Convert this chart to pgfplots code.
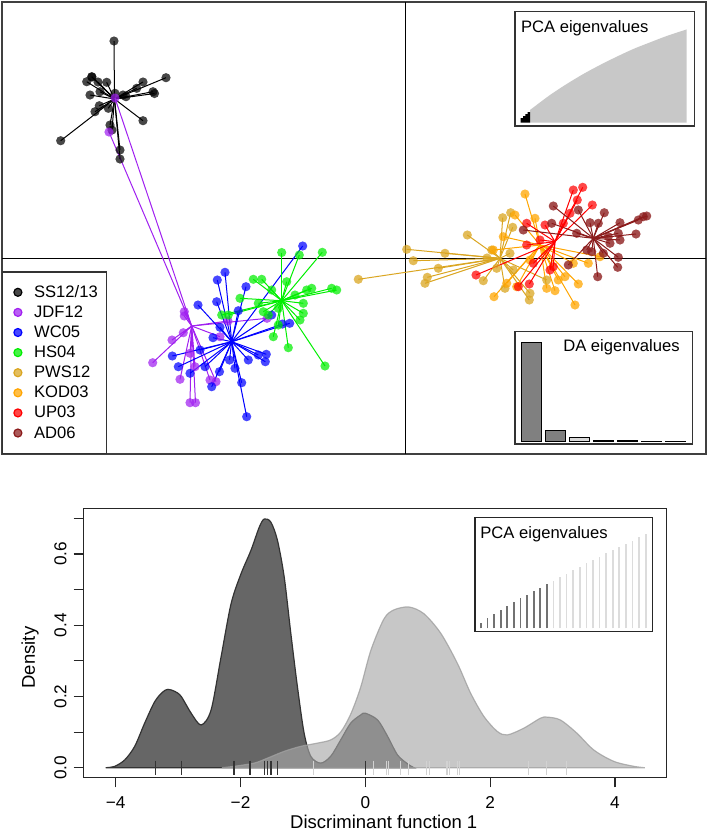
\documentclass[border=0pt]{standalone}
\usepackage{pgfplots}
\pgfplotsset{compat=1.18}
\usepackage{pgfplotstable}
\usepackage{fontspec}
\setmainfont{Liberation Sans}
\newcommand\fs{\fontsize{8.3}{10}\selectfont}
\newcommand\fl{\fontsize{9.25}{11}\selectfont}
\newcommand\ft{\fontsize{8.6}{10}\selectfont}
\definecolor{cA}{HTML}{000000}
\definecolor{cB}{HTML}{A020F0}
\definecolor{cC}{HTML}{0000FF}
\definecolor{cD}{HTML}{00EE00}
\definecolor{cE}{HTML}{DAA520}
\definecolor{cF}{HTML}{FFA500}
\definecolor{cG}{HTML}{FF0000}
\definecolor{cH}{HTML}{8B1A1A}
\definecolor{dkfill}{HTML}{666666}
\definecolor{dkline}{HTML}{333333}
\definecolor{ltfill}{HTML}{A7A7A7}
\definecolor{ltline}{HTML}{A0A0A0}
\definecolor{pcag}{HTML}{C8C8C8}
\definecolor{barDk}{HTML}{808080}
\definecolor{barLt}{HTML}{D9D9D9}
\definecolor{combDk}{HTML}{727272}
\definecolor{combLt}{HTML}{DCDCDC}
\definecolor{rugLt}{HTML}{D2D2D2}

% centroids (pixel coordinates of the scatter panel)
\def\cxA{114.5}\def\cyA{99}
\def\cxB{191.7}\def\cyB{326}
\def\cxC{231.7}\def\cyC{341.7}
\def\cxD{281.7}\def\cyD{300.7}
\def\cxE{500}\def\cyE{258.3}
\def\cxF{540}\def\cyF{245}
\def\cxG{555}\def\cyG{241.7}
\def\cxH{593.3}\def\cyH{238.3}

\pgfplotstableread{
x y
114 41
92 77
86.7 81.7
91.7 76.7
98 82
106.7 82.3
90 95
100 91.7
115 93.3
126 96.7
123 95
136.7 88.3
143 82
153 91.7
154.5 93.5
166 77.7
143 120.7
95 111.7
99.3 105.7
108.3 108.3
110 125
112 130
120 150
120 159
60.7 140.7
}\tA
\pgfplotstableread{
x y
115 98
109 132
184.3 311.7
184.3 316
183.3 332.7
152.7 362.7
180 379.3
190 353.3
195 366.7
190 402.7
195.5 402.7
210 380
216 381.7
220 336.7
228 321
267 318.3
172 340
}\tB
\pgfplotstableread{
x y
302.7 246
225 272.3
217.3 280
246 286.7
198 305
216.7 301.7
238.3 310.7
220 327.3
213 337.7
172.3 356
178.3 366.7
190 373.3
205 366.7
211.7 386.7
219.5 371.7
229.5 360
235 368.3
241.7 382.7
248.3 360
258.3 355
266.3 354.3
265.3 361.7
282.5 324
289.7 323.3
271.7 315
246.7 416.7
200 350
}\tC
\pgfplotstableread{
x y
281.7 252.5
299.3 255
322.3 252.3
253.3 279.3
261.7 279.3
240 298.3
221.7 315
228.3 315
258.3 303.3
263.3 311.7
273.3 336.7
288.3 347.7
325 366
303.3 303.3
303.3 313.3
306.7 290
311.7 288.3
331.7 288.3
336.7 290
295 295
286.7 281.7
271.7 290
278.3 308.3
300 320
278.3 325
268.3 315
}\tD
\pgfplotstableread{
x y
358.3 279.3
406.7 249.3
413.3 260.7
445 253.3
438.3 268.3
427.3 277.3
425 283.3
467.3 235
502.7 217.7
510.7 212.7
512.7 227.3
483.3 280.7
496.7 268.3
505 288.3
530 293.3
529.3 300
513.3 270
491.7 250
510 253.3
546.7 280
487 258
}\tE
\pgfplotstableread{
x y
525 194
515 215
535 218.3
494 296.7
503.3 236.7
493.3 250
546.7 288.3
555 290.7
558.3 280
575 305
578.3 284
588.3 263.3
600 256.7
565 276.7
516.7 286.7
573.3 263.3
506.7 283.3
530 260
}\tF
\pgfplotstableread{
x y
573.3 190
582.7 187.3
577.3 200
592.3 205
526.7 223.3
476 275
518.3 286.7
529.3 284
545 225
570 213.3
533.3 263.3
550 270
563.3 223.3
526.7 245
553.3 266.7
540 240
}\tG
\pgfplotstableread{
x y
553.3 206
578.3 210
604.3 212.7
590 222.7
598.3 223.3
620 222.7
638.3 220
646.7 216
643.3 216.7
636 234
620 240
618.3 233.3
610 243.3
618.3 257.3
617.7 267.3
597.7 276.7
568.3 265
586.7 250
576.7 233.3
523.3 230
551.7 223.3
591.7 251.7
603.3 253.3
608.3 236.7
}\tH

\begin{document}
\begin{tikzpicture}
\path[use as bounding box] (0,0) rectangle (354.5pt,-418.5pt);

% ---------------- top scatter panel ----------------
\begin{axis}[
  at={(1pt,-1pt)}, anchor=north west, scale only axis,
  width=352pt, height=226pt,
  xmin=2, xmax=706, ymin=-454, ymax=-2,
  xtick=\empty, ytick=\empty,
  axis line style={black!75, line width=0.9pt},
  legend image code/.code={\path (-3pt,0pt) (3pt,0pt); \fill[#1] (0pt,0pt) circle (2pt);},
  legend cell align=left,
  legend style={at={(0,0)}, anchor=south west, draw=black!80, line width=0.6pt,
    fill=white, font=\fs, inner xsep=4.35pt, inner ysep=6.7pt,
    row sep=3.05pt, column sep=4.8pt,
    nodes={inner sep=0pt, text height=6pt, text depth=1pt}},
]
\addlegendimage{cA, fill opacity=0.72}
\addlegendimage{cB, fill opacity=0.72}
\addlegendimage{cC, fill opacity=0.72}
\addlegendimage{cD, fill opacity=0.72}
\addlegendimage{cE, fill opacity=0.72}
\addlegendimage{cF, fill opacity=0.72}
\addlegendimage{cG, fill opacity=0.72}
\addlegendimage{cH, fill opacity=0.72}

\addplot[black, line width=0.5pt, forget plot] coordinates {(405,-2) (405,-454)};
\addplot[black, line width=0.5pt, forget plot] coordinates {(2,-258.3) (706,-258.3)};

\addplot[cA, line width=0.5pt, forget plot, quiver={u={\cxA-\thisrow{x}}, v={\thisrow{y}-\cyA}}] table[x=x, y expr=-\thisrow{y}] {\tA};
\addplot[cB, line width=0.5pt, forget plot, quiver={u={\cxB-\thisrow{x}}, v={\thisrow{y}-\cyB}}] table[x=x, y expr=-\thisrow{y}] {\tB};
\addplot[cC, line width=0.5pt, forget plot, quiver={u={\cxC-\thisrow{x}}, v={\thisrow{y}-\cyC}}] table[x=x, y expr=-\thisrow{y}] {\tC};
\addplot[cD, line width=0.5pt, forget plot, quiver={u={\cxD-\thisrow{x}}, v={\thisrow{y}-\cyD}}] table[x=x, y expr=-\thisrow{y}] {\tD};
\addplot[cE, line width=0.5pt, forget plot, quiver={u={\cxE-\thisrow{x}}, v={\thisrow{y}-\cyE}}] table[x=x, y expr=-\thisrow{y}] {\tE};
\addplot[cF, line width=0.5pt, forget plot, quiver={u={\cxF-\thisrow{x}}, v={\thisrow{y}-\cyF}}] table[x=x, y expr=-\thisrow{y}] {\tF};
\addplot[cG, line width=0.5pt, forget plot, quiver={u={\cxG-\thisrow{x}}, v={\thisrow{y}-\cyG}}] table[x=x, y expr=-\thisrow{y}] {\tG};
\addplot[cH, line width=0.5pt, forget plot, quiver={u={\cxH-\thisrow{x}}, v={\thisrow{y}-\cyH}}] table[x=x, y expr=-\thisrow{y}] {\tH};

\addplot[cA, only marks, mark=*, mark size=2.3pt, forget plot, mark options={fill opacity=0.72, draw opacity=0}] table[x=x, y expr=-\thisrow{y}] {\tA};
\addplot[cB, only marks, mark=*, mark size=2.3pt, forget plot, mark options={fill opacity=0.72, draw opacity=0}] table[x=x, y expr=-\thisrow{y}] {\tB};
\addplot[cC, only marks, mark=*, mark size=2.3pt, forget plot, mark options={fill opacity=0.72, draw opacity=0}] table[x=x, y expr=-\thisrow{y}] {\tC};
\addplot[cD, only marks, mark=*, mark size=2.3pt, forget plot, mark options={fill opacity=0.72, draw opacity=0}] table[x=x, y expr=-\thisrow{y}] {\tD};
\addplot[cE, only marks, mark=*, mark size=2.3pt, forget plot, mark options={fill opacity=0.75, draw opacity=0}] table[x=x, y expr=-\thisrow{y}] {\tE};
\addplot[cF, only marks, mark=*, mark size=2.3pt, forget plot, mark options={fill opacity=0.75, draw opacity=0}] table[x=x, y expr=-\thisrow{y}] {\tF};
\addplot[cG, only marks, mark=*, mark size=2.3pt, forget plot, mark options={fill opacity=0.72, draw opacity=0}] table[x=x, y expr=-\thisrow{y}] {\tG};
\addplot[cH, only marks, mark=*, mark size=2.3pt, forget plot, mark options={fill opacity=0.78, draw opacity=0}] table[x=x, y expr=-\thisrow{y}] {\tH};

\legend{SS12/13,JDF12,WC05,HS04,PWS12,KOD03,UP03,AD06}
\end{axis}

% ---------------- PCA eigenvalues inset (top) ----------------
\begin{axis}[
  at={(257.5pt,-5.85pt)}, anchor=north west, scale only axis,
  width=89.65pt, height=57.15pt,
  xmin=515, xmax=694.3, ymin=-3.3, ymax=111,
  xtick=\empty, ytick=\empty,
  axis background/.style={fill=white},
  axis line style={black!80, line width=0.6pt},
]
\addplot[fill=pcag, draw=none, smooth] coordinates {
 (530,12.7) (550,27.7) (566.7,38.7) (583.3,48.7) (600,57.7) (616.7,66)
 (633.3,73.7) (650,80.3) (666.7,86.7) (686.7,93.3)} \closedcycle;
\addplot[fill=black, draw=none, const plot] coordinates {
 (520.7,4.5) (523,6.5) (525.3,8.5) (527.6,10.5) (530,10.5)} \closedcycle;
\node[anchor=base west, font=\fs, inner sep=0pt] at (axis cs:520.7,90.7) {PCA eigenvalues};
\end{axis}

% ---------------- DA eigenvalues inset ----------------
\begin{axis}[
  at={(257.5pt,-165.85pt)}, anchor=north west, scale only axis,
  width=88.85pt, height=56.15pt,
  xmin=515, xmax=692.7, ymin=-2.5, ymax=109.8,
  xtick=\empty, ytick=\empty,
  axis background/.style={fill=white},
  axis line style={black!80, line width=0.6pt},
]
\addplot[ybar, bar width=20, bar shift=0pt, fill=barDk, draw=black, line width=0.5pt] coordinates {(531.7,99.2) (555.7,10.8)};
\addplot[ybar, bar width=20, bar shift=0pt, fill=barLt, draw=black, line width=0.5pt] coordinates {(579.7,4) (603.7,1.5) (627.7,1) (651.7,0.5) (675.7,0.3)};
\node[anchor=base east, font=\fs, inner sep=0pt] at (axis cs:680,89.8) {DA eigenvalues};
\end{axis}

% ---------------- density panel ----------------
\begin{axis}[
  at={(41.65pt,-254.15pt)}, anchor=north west, scale only axis,
  width=291.7pt, height=134.7pt,
  xmin=-4.52, xmax=4.83, ymin=-0.028, ymax=0.728,
  xtick={-4,-2,0,2,4}, xticklabels={−4,−2,0,2,4},
  ytick={0,0.1,0.2,0.3,0.4,0.5,0.6,0.7},
  yticklabels={0.0,,0.2,,0.4,,0.6,},
  xtick pos=left, ytick pos=left,
  tick align=outside, major tick length=4.8pt,
  tick style={black!85, line width=0.6pt},
  axis line style={black!85, line width=0.6pt},
  ticklabel style={font=\ft},
  xticklabel style={yshift=-1.2pt},
  yticklabel style={rotate=90, anchor=south},
  xlabel={Discriminant function 1}, ylabel={Density},
  label style={font=\fl},
  xlabel style={at={(axis description cs:0.515,-0.187)}, anchor=base},
  ylabel style={at={(axis description cs:-0.0828,0.446)}, anchor=base},
]
\addplot[fill=dkfill, draw=dkline, line width=0.6pt, smooth, tension=0.5] coordinates {
 (-4.16,0) (-4.016,0.004) (-3.856,0.022) (-3.696,0.06) (-3.537,0.125) (-3.377,0.185)
 (-3.25,0.212) (-3.164,0.22) (-3.05,0.214) (-2.951,0.2) (-2.791,0.153) (-2.632,0.12)
 (-2.472,0.162) (-2.312,0.311) (-2.152,0.46) (-1.993,0.544) (-1.833,0.61) (-1.70,0.675)
 (-1.62,0.698) (-1.513,0.689) (-1.407,0.637) (-1.30,0.535) (-1.194,0.377) (-1.088,0.227)
 (-0.981,0.097) (-0.874,0.032) (-0.715,0.013) (-0.555,0.032) (-0.395,0.078) (-0.235,0.125)
 (-0.076,0.148) (0,0.153) (0.197,0.134) (0.357,0.088) (0.516,0.036) (0.676,0.011) (0.78,0)} \closedcycle;
\addplot[fill=ltfill, fill opacity=0.63, draw=ltline, draw opacity=0.8, line width=0.6pt, smooth, tension=0.5] coordinates {
 (-2.3,0) (-2.10,0.004) (-1.78,0.013) (-1.567,0.027) (-1.30,0.046) (-1.034,0.06)
 (-0.768,0.069) (-0.555,0.078) (-0.395,0.100) (-0.235,0.150) (-0.076,0.225) (0.09,0.33)
 (0.30,0.418) (0.46,0.443) (0.70,0.451) (0.94,0.432) (1.21,0.377) (1.475,0.293)
 (1.688,0.209) (1.90,0.144) (2.114,0.102) (2.274,0.092) (2.54,0.111) (2.806,0.139)
 (2.913,0.142) (3.126,0.134) (3.39,0.097) (3.66,0.05) (3.98,0.018) (4.30,0.004) (4.48,0)} \closedcycle;
\addplot[only marks, mark=|, mark size=3.5pt, dkline, mark options={line width=0.6pt}] coordinates {
 (-3.366,0) (-2.946,0) (-2.115,0) (-2.10,0) (-1.848,0) (-1.62,0) (-1.566,0) (-1.513,0) (-1.406,0) (0,0)};
\addplot[only marks, mark=|, mark size=3.5pt, rugLt, mark options={line width=0.6pt}] coordinates {
 (-0.837,0) (0.134,0) (0.342,0) (0.374,0) (0.559,0) (0.687,0) (0.986,0) (1.033,0)
 (1.310,0) (1.353,0) (1.476,0) (1.512,0) (2.609,0) (2.899,0) (3.230,0)};
\end{axis}

% ---------------- PCA eigenvalues inset (bottom) ----------------
\begin{axis}[
  at={(237.5pt,-258.85pt)}, anchor=north west, scale only axis,
  width=88.65pt, height=57pt,
  xmin=475, xmax=652.3, ymin=-3.4, ymax=110.6,
  xtick=\empty, ytick=\empty,
  axis background/.style={fill=white},
  axis line style={black!85, line width=0.6pt},
]
\addplot[ycomb, combDk, line width=0.85pt] coordinates {
 (481.0,5.7) (487.6,10) (494.2,14.3) (500.8,18.3) (507.3,22.3) (513.9,26.7)
 (520.5,30) (527.1,33.3) (533.7,37.3) (540.3,40.7) (546.9,44)};
\addplot[ycomb, combLt, line width=0.85pt] coordinates {
 (553.5,47.3) (560.0,51) (566.6,54.3) (573.2,58.3) (579.8,61.7) (586.4,65)
 (593.0,68.3) (599.6,71.7) (606.2,75) (612.7,78.3) (619.3,81.7) (625.9,84.3)
 (632.5,87.7) (639.1,91) (645.7,94)};
\node[anchor=base west, font=\fs, inner sep=0pt] at (axis cs:480,90) {PCA eigenvalues};
\end{axis}
\end{tikzpicture}
\end{document}
